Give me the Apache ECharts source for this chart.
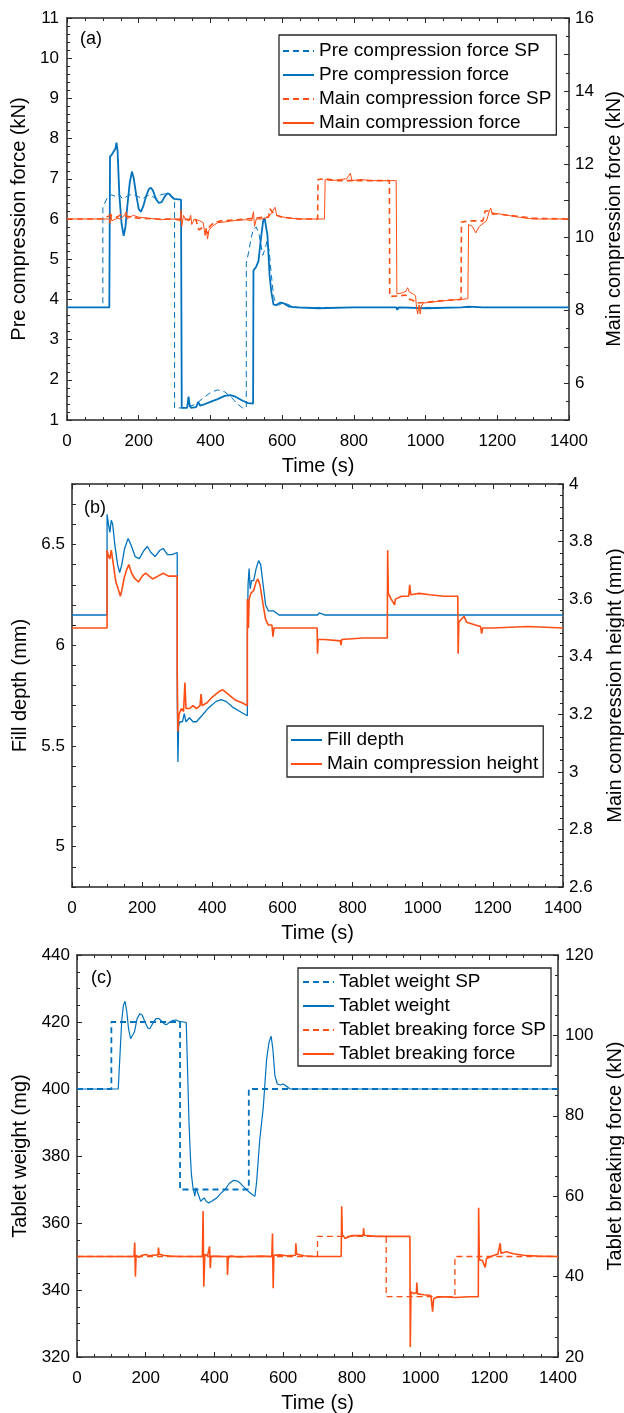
<!DOCTYPE html>
<html>
<head>
<meta charset="utf-8">
<script src="https://cdn.jsdelivr.net/npm/echarts@6/dist/echarts.min.js"></script>
<style>
html,body{margin:0;padding:0;background:#fff;}
#chart{width:624px;height:1413px;}
</style>
</head>
<body>
<div id="chart"></div>
<script>
// ---------- Panel (a) ----------
const preForceSP = [[0,3.8],[100,3.8],[100,6.3],[105,6.33],[111,6.5],[115,6.58],[125,6.6],[135,6.56],[145,6.62],[155,6.5],[165,6.55],[175,6.6],[186,6.61],[200,6.55],[210,6.5],[218,6.55],[230,6.6],[240,6.55],[250,6.5],[260,6.6],[270,6.62],[278,6.63],[288,6.58],[296,6.55],[300,6.5],[300,1.3],[320,1.3],[340,1.33],[360,1.4],[380,1.55],[400,1.68],[420,1.75],[440,1.7],[460,1.55],[475,1.4],[490,1.3],[500,1.3],[500,4.9],[506,5.15],[514,5.55],[520,5.75],[528,5.8],[536,5.6],[542,5.3],[546,5.1],[552,5.25],[558,5.45],[564,5.2],[570,4.6],[576,4.1],[582,3.9],[592,3.86],[602,3.92],[615,3.88],[630,3.82],[650,3.8],[1400,3.8]];
const preForce = [[0,3.8],[118,3.8],[120,7.55],[125,7.6],[130,7.68],[135,7.75],[138,7.9],[141,7.7],[146,6.6],[152,5.9],[158,5.58],[163,5.8],[168,6.3],[175,6.9],[181,7.18],[186,7.02],[193,6.6],[200,6.25],[206,6.18],[212,6.3],[220,6.55],[228,6.74],[234,6.78],[240,6.7],[248,6.5],[256,6.4],[264,6.42],[272,6.55],[280,6.64],[286,6.62],[292,6.55],[298,6.5],[318,6.48],[320,1.3],[335,1.3],[339,1.58],[342,1.37],[346,1.3],[360,1.32],[366,1.45],[371,1.36],[380,1.38],[400,1.45],[420,1.52],[440,1.6],[455,1.62],[470,1.58],[490,1.48],[505,1.42],[519,1.41],[520,4.72],[528,4.82],[534,4.95],[540,5.45],[547,5.95],[551,6.03],[555,6.05],[559,5.6],[565,4.6],[570,4.18],[576,3.87],[585,3.86],[595,3.92],[605,3.9],[620,3.82],[640,3.8],[700,3.78],[800,3.8],[918,3.8],[921,3.74],[925,3.8],[1000,3.78],[1100,3.8],[1120,3.82],[1160,3.8],[1400,3.8]];
const mainForceSP = [[0,10.5],[100,10.5],[110,10.55],[120,10.6],[140,10.55],[150,10.62],[165,10.58],[180,10.55],[200,10.52],[250,10.5],[300,10.5],[360,10.48],[364,10.3],[368,10.2],[375,10.25],[385,10.22],[392,10.1],[398,10.3],[410,10.4],[430,10.45],[500,10.5],[550,10.55],[562,10.55],[566,10.78],[572,10.7],[580,10.62],[600,10.55],[650,10.5],[699,10.5],[700,11.58],[720,11.6],[750,11.55],[800,11.55],[850,11.55],[899,11.55],[900,8.38],[930,8.4],[945,8.42],[950,8.32],[965,8.27],[975,8.2],[1000,8.22],[1050,8.27],[1099,8.3],[1100,10.42],[1130,10.45],[1160,10.45],[1166,10.72],[1175,10.72],[1190,10.65],[1250,10.58],[1300,10.52],[1400,10.5]];
const mainForce = [[0,10.5],[118,10.5],[120,10.38],[122,10.65],[125,10.45],[140,10.52],[150,10.5],[160,10.6],[165,10.7],[168,10.5],[175,10.55],[185,10.6],[200,10.55],[230,10.52],[260,10.48],[300,10.5],[315,10.45],[318,10.75],[320,10.3],[325,10.6],[330,10.5],[340,10.45],[345,10.6],[348,10.35],[355,10.5],[370,10.45],[380,10.4],[385,10.05],[388,10.25],[392,9.95],[396,10.2],[405,10.3],[420,10.4],[440,10.42],[470,10.46],[500,10.48],[515,10.45],[520,10.7],[523,10.3],[528,10.5],[545,10.5],[560,10.55],[570,10.65],[575,10.6],[580,10.82],[585,10.6],[600,10.56],[620,10.52],[650,10.5],[718,10.5],[720,11.58],[740,11.55],[760,11.58],[780,11.6],[790,11.75],[795,11.55],[820,11.58],[850,11.55],[880,11.55],[918,11.55],[920,8.45],[935,8.48],[945,8.52],[950,8.62],[955,8.5],[965,8.45],[972,8.4],[975,8.05],[978,7.9],[982,8.15],[985,7.9],[988,8.12],[995,8.2],[1010,8.22],[1040,8.25],[1070,8.28],[1100,8.3],[1118,8.32],[1120,10.35],[1130,10.3],[1140,10.12],[1150,10.3],[1170,10.45],[1178,10.72],[1182,10.8],[1186,10.62],[1200,10.65],[1230,10.6],[1260,10.55],[1300,10.5],[1400,10.5]];

// ---------- Panel (b) ----------
const fillDepth = [[0,6.15],[100,6.15],[100,6.65],[104,6.6],[108,6.56],[112,6.62],[116,6.6],[122,6.5],[130,6.4],[136,6.36],[142,6.4],[150,6.48],[160,6.53],[170,6.49],[180,6.44],[192,6.43],[205,6.47],[215,6.49],[225,6.46],[237,6.44],[250,6.47],[260,6.48],[272,6.45],[285,6.45],[300,6.46],[300,5.74],[302,5.42],[304,5.6],[308,5.62],[315,5.62],[320,5.66],[325,5.62],[335,5.64],[345,5.62],[355,5.62],[370,5.65],[390,5.69],[410,5.72],[425,5.73],[440,5.72],[460,5.69],[480,5.67],[500,5.65],[500,6.05],[502,6.3],[505,6.38],[508,6.28],[512,6.32],[518,6.32],[525,6.38],[532,6.42],[538,6.4],[545,6.3],[552,6.2],[560,6.17],[575,6.17],[590,6.15],[700,6.15],[705,6.16],[720,6.15],[1400,6.15]];
const mainHeight = [[0,3.5],[100,3.5],[100,3.77],[104,3.75],[108,3.74],[112,3.77],[118,3.72],[125,3.66],[133,3.63],[138,3.61],[142,3.63],[148,3.67],[155,3.7],[162,3.72],[170,3.69],[180,3.67],[190,3.66],[200,3.68],[210,3.69],[220,3.68],[230,3.67],[245,3.68],[260,3.69],[275,3.68],[300,3.68],[300,3.35],[302,3.14],[305,3.2],[312,3.22],[318,3.21],[322,3.31],[325,3.22],[335,3.22],[345,3.23],[355,3.22],[365,3.23],[368,3.27],[371,3.23],[385,3.24],[400,3.26],[420,3.28],[430,3.285],[445,3.27],[465,3.25],[485,3.24],[500,3.23],[500,3.6],[503,3.5],[505,3.6],[510,3.62],[518,3.63],[525,3.66],[530,3.67],[536,3.65],[545,3.58],[552,3.53],[560,3.51],[570,3.51],[573,3.47],[576,3.5],[600,3.5],[699,3.5],[700,3.41],[702,3.46],[720,3.46],[765,3.455],[767,3.44],[769,3.46],[830,3.465],[899,3.465],[900,3.77],[902,3.62],[910,3.6],[920,3.58],[922,3.6],[940,3.61],[960,3.61],[963,3.65],[966,3.615],[990,3.62],[1020,3.615],[1060,3.61],[1100,3.61],[1101,3.41],[1103,3.52],[1110,3.53],[1118,3.54],[1125,3.52],[1150,3.51],[1165,3.505],[1168,3.48],[1171,3.5],[1200,3.5],[1300,3.505],[1400,3.5]];

// ---------- Panel (c) ----------
const weightSP = [[0,400],[100,400],[100,420],[300,420],[300,370],[500,370],[500,400],[1400,400]];
const weight = [[0,400],[120,400],[125,410],[130,420],[135,425],[140,426.2],[145,423],[150,418],[156,415],[161,414.8],[167,417],[175,421],[183,422.5],[190,422],[198,420],[206,418.2],[212,418],[220,419.5],[230,421],[239,421],[248,420],[256,419.3],[262,419.3],[270,420],[280,420.5],[289,420.6],[296,420.2],[310,420],[318,419.8],[322,405],[326,390],[330,380],[333,374.5],[337,371],[340,370.5],[343,368],[346,370.5],[350,370],[355,368],[360,366.5],[365,367],[370,367.5],[376,366.5],[383,366],[392,366.5],[407,367.5],[420,369],[431,370],[443,371.8],[455,372.7],[465,372.6],[474,372],[486,370.7],[498,369.5],[510,368.5],[518,368],[523,372.5],[532,385],[542,394.3],[552,409],[559,414],[565,415.8],[570,412],[576,404],[583,401.5],[591,401.2],[600,401.5],[610,400.8],[620,400],[1400,400]];
const breakSP = [[0,45],[700,45],[700,50],[900,50],[900,35],[1100,35],[1100,45],[1400,45]];
const breakForce = [[0,45],[166,45],[168,48.5],[170,40],[172,45.3],[180,44.8],[190,45.3],[200,45.5],[210,45.2],[220,45.3],[236,45.4],[237,47.2],[239,45.6],[250,45.3],[270,45.1],[300,45],[340,45],[365,45],[367,56.3],[369,37.5],[372,45.5],[380,45.2],[386,47.5],[388,42.1],[390,45],[400,45.1],[420,45],[437,45],[438,40.4],[440,44.5],[445,45.1],[470,44.9],[500,45],[540,45.1],[567,45],[569,50.7],[571,37.1],[573,45.3],[590,45.4],[610,45.2],[636,45.3],[637,48.3],[639,45.6],[660,45.2],[690,45],[720,45],[750,45],[769,45],[770.5,57.5],[772,50.5],[780,49.5],[800,50.2],[833,50.2],[834,52],[836,50.3],[870,50],[920,50],[969,50],[970,22.5],[972,36.2],[980,35.8],[988,36],[989,38.5],[991,35.7],[1010,35.5],[1030,35.3],[1035,31.3],[1038,34.5],[1045,34.8],[1070,35],[1100,34.8],[1140,35],[1168,35],[1169,57.1],[1171,44.2],[1180,44],[1188,42.3],[1192,44.5],[1210,45.2],[1225,45.6],[1232,48.3],[1234,45.8],[1250,46.2],[1270,45.7],[1300,45.3],[1340,45.1],[1400,45]];

// ---------- tick labels ----------
const timeTicks = {min:0, max:1400, interval:200};
const aRightLabels = [6,8,10,12,14,16];
const bLeftLabels = [5,5.5,6,6.5];

const BLUE = '#0072BD', ORANGE = '#FF4E14', AX = '#262626';
const FONT = '"Liberation Sans", Arial, sans-serif';

function xAx(grid, top, name, nameGap){
  return {
    type:'value', gridIndex:grid, position: top ? 'top' : 'bottom',
    min:timeTicks.min, max:timeTicks.max, interval:timeTicks.interval,
    name: top ? '' : name, nameLocation:'middle', nameGap:nameGap,
    nameTextStyle:{fontSize:20, color:'#000', fontFamily:FONT},
    axisLine:{onZero:false, lineStyle:{color:AX, width:1.5}},
    axisTick:{inside:true, length:5, lineStyle:{color:AX}},
    minorTick:{show:true, splitNumber:4, length:3, lineStyle:{color:AX}},
    axisLabel:{show:!top, fontSize:17, color:'#000', margin:13, fontFamily:FONT,
               formatter:function(v){ return String(v); }},
    splitLine:{show:false}
  };
}
function yAx(grid, pos, o){
  const ax = {
    type:'value', gridIndex:grid, position:pos,
    min:o.min, max:o.max, interval:o.interval,
    name:o.name, nameLocation:'middle', nameGap:o.nameGap, nameRotate:90,
    nameTextStyle:{fontSize:20, color:'#000', fontFamily:FONT},
    axisLine:{show:true, onZero:false, lineStyle:{color:AX, width:1.5}},
    axisTick:{inside:true, length:5, lineStyle:{color:AX}},
    minorTick:{show:!!o.minor, splitNumber:o.minor||2, length:3, lineStyle:{color:AX}},
    axisLabel:{fontSize:17, color:'#000', margin:o.margin||7, fontFamily:FONT,
               formatter:function(v){ return String(v); }},
    splitLine:{show:false}
  };
  if (o.labels) { ax.axisLabel.customValues = o.labels; }
  if (o.tickLen) { ax.axisTick.length = o.tickLen; }
  return ax;
}

function legend(names, left, top, padding){
  return {
    data:names, orient:'vertical', left:left, top:top,
    itemWidth:31, itemHeight:12, itemGap:4, padding:padding,
    borderColor:AX, borderWidth:1.3, backgroundColor:'#fff', borderRadius:0,
    itemStyle:{opacity:0},
    textStyle:{fontSize:19, color:'#000', lineHeight:20, fontFamily:FONT},
    selectedMode:false, z:10
  };
}

function line(name, data, xi, yi, color, width, dashed, z){
  return {
    name:name, type:'line', data:data, xAxisIndex:xi, yAxisIndex:yi,
    symbol:'none', showSymbol:false, animation:false, z:z||2,
    color:color,
    lineStyle:{color:color, width:width, type: dashed ? [6,4] : 'solid'}
  };
}

const chart = echarts.init(document.getElementById('chart'), null, {renderer:'canvas'});
chart.setOption({
  animation:false,
  backgroundColor:'#fff',
  textStyle:{fontFamily:FONT},
  title:[
    {text:'(a)', left:75, top:25, textStyle:{fontSize:18, fontWeight:'normal', color:'#000', fontFamily:FONT}},
    {text:'(b)', left:79, top:494, textStyle:{fontSize:18, fontWeight:'normal', color:'#000', fontFamily:FONT}},
    {text:'(c)', left:86, top:964, textStyle:{fontSize:18, fontWeight:'normal', color:'#000', fontFamily:FONT}}
  ],
  grid:[
    {left:67, top:18, width:502, height:402, show:false, containLabel:false, outerBoundsMode:'none'},
    {left:72, top:484, width:491, height:403, show:false, containLabel:false, outerBoundsMode:'none'},
    {left:77, top:955, width:481, height:402, show:false, containLabel:false, outerBoundsMode:'none'}
  ],
  xAxis:[
    xAx(0,false,'Time (s)',36), xAx(0,true),
    xAx(1,false,'Time (s)',36), xAx(1,true),
    xAx(2,false,'Time (s)',36), xAx(2,true)
  ],
  yAxis:[
    yAx(0,'left',{min:1,max:11,interval:1,minor:5,name:'Pre compression force (kN)',nameGap:27,margin:8}),
    yAx(0,'right',{min:5,max:16,interval:1,minor:2,labels:aRightLabels,name:'Main compression force (kN)',nameGap:35,margin:6}),
    yAx(1,'left',{min:4.8,max:6.8,interval:0.1,labels:bLeftLabels,tickLen:4,name:'Fill depth (mm)',nameGap:32,margin:7}),
    yAx(1,'right',{min:2.6,max:4,interval:0.2,minor:5,name:'Main compression height (mm)',nameGap:42,margin:6}),
    yAx(2,'left',{min:320,max:440,interval:20,minor:4,name:'Tablet weight (mg)',nameGap:37,margin:7}),
    yAx(2,'right',{min:20,max:120,interval:20,minor:4,name:'Tablet breaking force (kN)',nameGap:47,margin:7})
  ],
  legend:[
    legend(['Pre compression force SP','Pre compression force','Main compression force SP','Main compression force'], 279, 35, [6,5,2,3]),
    legend(['Fill depth','Main compression height'], 287, 726, [4,5,3,3]),
    legend(['Tablet weight SP','Tablet weight','Tablet breaking force SP','Tablet breaking force'], 298, 968, [4,5,2,4])
  ],
  series:[
    line('Pre compression force SP', preForceSP, 0, 0, BLUE, 1, true, 2),
    line('Pre compression force', preForce, 0, 0, BLUE, 1.8, false, 3),
    line('Main compression force SP', mainForceSP, 0, 1, ORANGE, 1.6, true, 4),
    line('Main compression force', mainForce, 0, 1, ORANGE, 1, false, 5),
    line('Fill depth', fillDepth, 2, 2, BLUE, 1.3, false, 2),
    line('Main compression height', mainHeight, 2, 3, ORANGE, 1.6, false, 3),
    line('Tablet weight SP', weightSP, 4, 4, BLUE, 1.8, true, 2),
    line('Tablet weight', weight, 4, 4, BLUE, 1.2, false, 3),
    line('Tablet breaking force SP', breakSP, 4, 5, ORANGE, 1.3, true, 4),
    line('Tablet breaking force', breakForce, 4, 5, ORANGE, 1.6, false, 5)
  ]
});
</script>
</body>
</html>
